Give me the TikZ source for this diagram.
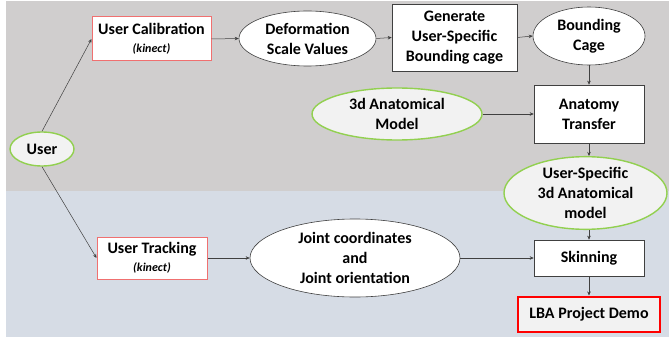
\documentclass[tikz,border=0pt]{standalone}
\usepackage{fontspec}
\setmainfont{Carlito}
\usetikzlibrary{shapes.geometric,arrows.meta}
\definecolor{bggray}{HTML}{D0CECE}
\definecolor{bgblue}{HTML}{D6DCE5}
\definecolor{greenb}{HTML}{92D050}
\definecolor{lightf}{HTML}{F2F2F2}
\definecolor{redb}{HTML}{F07070}
\definecolor{linec}{HTML}{404040}
\newcommand\kinecttxt{{\fontsize{12}{14}\selectfont\bfseries\itshape (kinect)}}
\tikzset{
  lbl/.style={font=\fontsize{16}{20}\selectfont\bfseries, align=center, inner sep=0pt, text=black},
  boxw/.style={lbl, rectangle, draw=linec, fill=white, line width=0.6pt},
  boxr/.style={lbl, rectangle, draw=redb, fill=white, line width=1pt},
  ellw/.style={lbl, ellipse, draw=linec, fill=white, line width=0.6pt},
  ellg/.style={lbl, ellipse, draw=greenb, fill=lightf, line width=1.4pt},
  conn/.style={draw=linec, line width=0.5pt, -{Stealth[length=4pt,width=3.5pt]}}
}
\begin{document}
\begin{tikzpicture}[x=1pt,y=-1pt]
\useasboundingbox (0,0) rectangle (669,337);
\fill[bggray] (6,1) rectangle (669,191);
\fill[bgblue] (6,191) rectangle (669,337);

\node[ellg, minimum width=64pt, minimum height=34pt] (user) at (42,149) {User};
\node[boxr, minimum width=119pt, minimum height=44pt] (calib) at (151.5,39) {User Calibration\\[-2pt]\kinecttxt};
\node[ellw, minimum width=137pt, minimum height=55pt] (deform) at (307.5,38.5) {Deformation\\Scale Values};
\node[boxw, minimum width=125pt, minimum height=67pt] (gen) at (454.5,37.5) {Generate\\User-Specific\\Bounding cage};
\node[ellw, minimum width=112pt, minimum height=58pt] (cage) at (589,36) {Bounding\\Cage};
\node[boxw, minimum width=110pt, minimum height=58pt] (anat) at (589,114) {Anatomy\\Transfer};
\node[ellg, minimum width=170pt, minimum height=52pt] (model) at (397,114) {3d Anatomical\\Model};
\node[ellg, minimum width=163pt, minimum height=70pt] (uspec) at (585.5,193) {User-Specific\\3d Anatomical\\model};
\node[boxr, minimum width=110pt, minimum height=42pt] (track) at (152,258) {User Tracking\\[-2pt]\kinecttxt};
\node[ellw, minimum width=210pt, minimum height=78pt] (joint) at (355,258) {Joint coordinates\\and\\Joint orientation};
\node[boxw, minimum width=110pt, minimum height=36pt] (skin) at (589,258) {Skinning};
\node[lbl, rectangle, draw=red, fill=lightf, line width=2pt, minimum width=142pt, minimum height=35pt] (lba) at (589,314) {LBA Project Demo};

\draw[conn] (user.north) -- (calib.west);
\draw[conn] (user.south) -- (track.west);
\draw[conn] (calib.east) -- (deform.west);
\draw[conn] (deform.east) -- (gen.west);
\draw[conn] (gen.east) -- (cage.west);
\draw[conn] (cage.south) -- (anat.north);
\draw[conn] (model.east) -- (anat.west);
\draw[conn] (anat.south) -- (anat.south |- uspec.north);
\draw[conn] (uspec.south -| skin.north) -- (skin.north);
\draw[conn] (track.east) -- (joint.west);
\draw[conn] (joint.east) -- (skin.west);
\draw[conn] (skin.south) -- (lba.north);
\end{tikzpicture}
\end{document}
